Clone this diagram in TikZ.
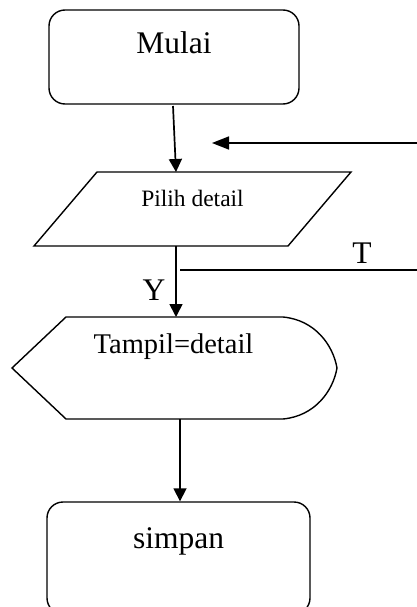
\documentclass[tikz,border=0pt]{standalone}
\usepackage{fontspec}
\setmainfont{Liberation Serif}
\usetikzlibrary{arrows.meta}

\tikzset{
  shapeline/.style={draw=black, line width=1.4pt, line join=miter},
  roundbox/.style={shapeline, rounded corners=16pt, inner sep=0pt},
  flow/.style={draw=black, line width=1.7pt, -{Triangle[length=13pt,width=13pt]}},
  plainline/.style={draw=black, line width=1.4pt},
  bigtext/.style={font=\fontsize{31.5}{36}\selectfont, anchor=base, inner sep=0pt},
  midtext/.style={font=\fontsize{28.5}{33}\selectfont, anchor=base, inner sep=0pt},
  smalltext/.style={font=\fontsize{23.5}{28}\selectfont, anchor=base, inner sep=0pt},
}

\begin{document}
\begin{tikzpicture}[x=1pt,y=-1pt]
  \useasboundingbox (0,0) rectangle (417,607);
  \clip (0,0) rectangle (417,607);

  % start terminal
  \node[roundbox, minimum width=250pt, minimum height=94pt] (mulai) at (174,57) {};
  \node[bigtext] (mulaitxt) at (174,54) {Mulai};

  % input: choose detail
  \draw[shapeline] (97,172) coordinate (pilihtop) -- (351,172) -- (288,246) -- (34,246) -- cycle;
  \node[smalltext] (pilihtxt) at (192.5,206) {Pilih detail};
  \coordinate (pilihin) at (176,172);
  \coordinate (pilihout) at (176,246);

  % display: show detail
  \draw[shapeline] (12,368) -- (66,317) -- (283,317)
    .. controls (315,320) and (333,345) .. (337,368)
    .. controls (333,391) and (315,416) .. (283,419)
    -- (66,419) -- cycle;
  \node[midtext] (tampiltxt) at (173.5,353) {Tampil=detail};
  \coordinate (tampilin) at (176,317);
  \coordinate (tampilout) at (180,419);

  % end terminal (runs past the lower edge)
  \node[roundbox, minimum width=263pt, minimum height=112pt] (simpan) at (178.5,558) {};
  \node[bigtext] (simpantxt) at (178.5,548) {simpan};

  % main flow
  \coordinate (mulaiout) at (173,106);
  \draw[flow] (mulaiout) -- (pilihin);
  \draw[flow] (pilihout) -- (tampilin);
  \draw[flow] (tampilout) -- (simpan.north -| tampilout);

  % "T" branch and loop back
  \coordinate (tstart) at (180,270);
  \coordinate (tend) at (420,270);
  \draw[plainline] (tstart) -- (tend);
  \node[bigtext] (tlabel) at (362,263) {T};
  \node[bigtext] (ylabel) at (154,300) {Y};

  \coordinate (loopstart) at (420,143);
  \coordinate (loopend) at (212,143);
  \draw[draw=black, line width=1.7pt, -{Triangle[length=17pt,width=13pt]}] (loopstart) -- (loopend);
\end{tikzpicture}
\end{document}
